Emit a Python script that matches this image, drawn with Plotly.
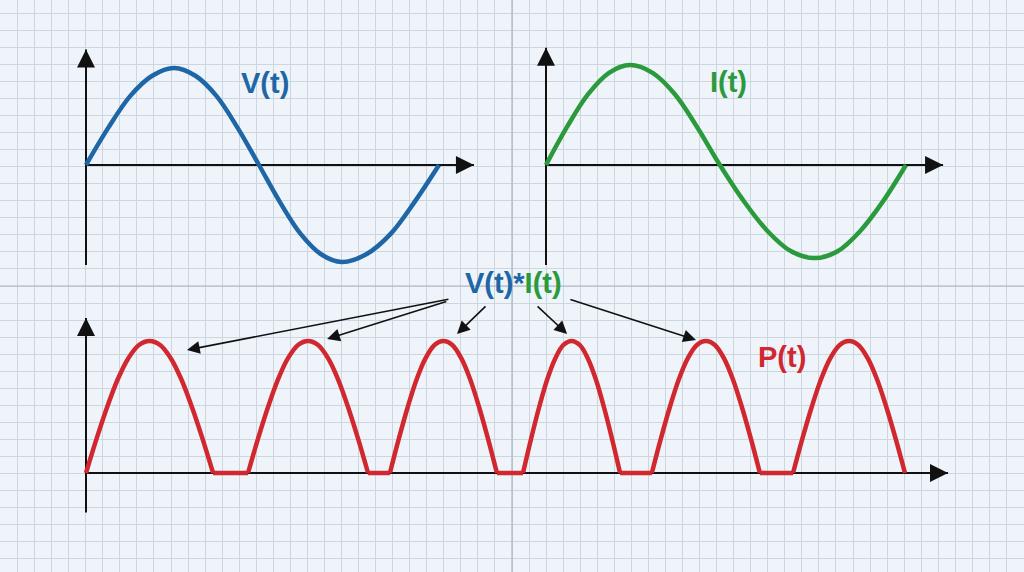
import plotly.graph_objects as go

# ---------------- data ----------------
# V(t): time in periods, value in amplitude units
V_t = [0, 0.0625, 0.125, 0.1875, 0.25, 0.31, 0.37, 0.43, 0.49, 0.549, 0.608, 0.666, 0.725, 0.794, 0.863, 0.931, 1.0]
V_val = [0, 0.38, 0.71, 0.92, 1.0, 0.92, 0.71, 0.38, 0, -0.38, -0.71, -0.92, -1.0, -0.92, -0.71, -0.38, 0]

# I(t)
I_t = [0, 0.058, 0.117, 0.175, 0.233, 0.296, 0.358, 0.42, 0.483, 0.549, 0.615, 0.681, 0.747, 0.81, 0.873, 0.937, 1.0]
I_val = [0, 0.39, 0.73, 0.95, 1.03, 0.95, 0.73, 0.39, 0, -0.37, -0.68, -0.89, -0.96, -0.89, -0.68, -0.37, 0]

# P(t): six humps separated by flat zero stretches
P_hump_start = [0.0, 0.459, 0.861, 1.238, 1.603, 2.003]
P_hump_end = [0.360, 0.799, 1.164, 1.513, 1.909, 2.320]
P_profile_frac = [0, 1/12, 2/12, 3/12, 4/12, 5/12, 6/12, 7/12, 8/12, 9/12, 10/12, 11/12, 1]
P_profile_val = [0, 0.26, 0.50, 0.71, 0.87, 0.97, 1.0, 0.97, 0.87, 0.71, 0.50, 0.26, 0]

# humps (smooth) and flat stretches (straight), gaps marked with None
P_t, P_val = [], []
for s, e in zip(P_hump_start, P_hump_end):
    for f, v in zip(P_profile_frac, P_profile_val):
        P_t.append(s + f * (e - s))
        P_val.append(v)
    P_t.append(None)
    P_val.append(None)
P_flat_t, P_flat_val = [], []
for e, s in zip(P_hump_end[:-1], P_hump_start[1:]):
    P_flat_t += [e, s, None]
    P_flat_val += [0, 0, None]

# axis extents of each panel (data units)
V_axis_x_end, V_axis_y = 1.099, (-1.03, 1.19)
I_axis_x_end, I_axis_y = 1.103, (-1.03, 1.21)
P_axis_x_end, P_axis_y = 2.442, (-0.30, 1.174)

# labels
labels = [
    ("V(t)", "x2", "y2", 0.507, 0.845, "#1f66a6"),
    ("I(t)", "x3", "y3", 0.508, 0.856, "#2b9a3c"),
    ("P(t)", "x4", "y4", 1.972, 0.879, "#d1272f"),
]
prod_label_pos = (1.212, 1.439)
# arrows from product label: (tail_t, tail_p, head_t, head_p)
prod_arrows = [
    (1.031, 1.318, 0.286, 0.932),
    (1.025, 1.303, 0.683, 1.015),
    (1.136, 1.273, 1.051, 1.053),
    (1.275, 1.273, 1.363, 1.053),
    (1.368, 1.318, 1.728, 1.008),
]

# ---------------- style ----------------
W, H = 1024, 572
BG = "#eef4fa"
GRID = "#cdd6df"
MAJOR = "#aab5c1"
BLUE = "#1f66a6"
GREEN = "#2b9a3c"
RED = "#d1272f"
AXIS = "#111111"
FONT = "Liberation Sans, Arial, sans-serif"
LW = 4.5

fig = go.Figure()

# dummy trace to keep the background grid subplot alive
fig.add_trace(go.Scatter(x=[None], y=[None], xaxis="x", yaxis="y",
                         showlegend=False, hoverinfo="skip"))

fig.add_trace(go.Scatter(x=V_t, y=V_val, xaxis="x2", yaxis="y2", mode="lines",
                         line=dict(color=BLUE, width=LW, shape="spline"),
                         showlegend=False, hoverinfo="skip"))
fig.add_trace(go.Scatter(x=I_t, y=I_val, xaxis="x3", yaxis="y3", mode="lines",
                         line=dict(color=GREEN, width=LW, shape="spline"),
                         showlegend=False, hoverinfo="skip"))
fig.add_trace(go.Scatter(x=P_flat_t, y=P_flat_val, xaxis="x4", yaxis="y4", mode="lines",
                         line=dict(color=RED, width=LW), connectgaps=False,
                         showlegend=False, hoverinfo="skip"))
fig.add_trace(go.Scatter(x=P_t, y=P_val, xaxis="x4", yaxis="y4", mode="lines",
                         line=dict(color=RED, width=LW, shape="spline"), connectgaps=False,
                         showlegend=False, hoverinfo="skip"))

hidden = dict(visible=False, showgrid=False, zeroline=False, fixedrange=True, domain=[0, 1])

fig.update_layout(
    width=W, height=H, autosize=False,
    margin=dict(l=0, r=0, t=0, b=0),
    paper_bgcolor=BG, plot_bgcolor="rgba(0,0,0,0)",
    xaxis=dict(range=[0, W], domain=[0, 1], showgrid=True, gridcolor=GRID, gridwidth=1,
               tick0=512, dtick=17.05, showticklabels=False, ticks="", zeroline=False,
               showline=False, fixedrange=True),
    yaxis=dict(range=[H, 0], domain=[0, 1], showgrid=True, gridcolor=GRID, gridwidth=1,
               tick0=286, dtick=17.05, showticklabels=False, ticks="", zeroline=False,
               showline=False, fixedrange=True),
    xaxis2=dict(range=[-86 / 353, (W - 86) / 353], anchor="y2", **hidden),
    yaxis2=dict(range=[(165 - H) / 97, 165 / 97], anchor="x2", **hidden),
    xaxis3=dict(range=[-546 / 360, (W - 546) / 360], anchor="y3", **hidden),
    yaxis3=dict(range=[(165 - H) / 97, 165 / 97], anchor="x3", **hidden),
    xaxis4=dict(range=[-86 / 353, (W - 86) / 353], anchor="y4", **hidden),
    yaxis4=dict(range=[(473 - H) / 132, 473 / 132], anchor="x4", **hidden),
    showlegend=False,
)

shapes = [
    dict(type="line", xref="x", yref="y", x0=512, x1=512, y0=0, y1=H,
         line=dict(color=MAJOR, width=1.2), layer="between"),
    dict(type="line", xref="x", yref="y", x0=0, x1=W, y0=286, y1=286,
         line=dict(color=MAJOR, width=1.2), layer="between"),
]
annotations = []
for xr, yr, xend, (yb, yt) in [("x2", "y2", V_axis_x_end, V_axis_y),
                               ("x3", "y3", I_axis_x_end, I_axis_y),
                               ("x4", "y4", P_axis_x_end, P_axis_y)]:
    shapes.append(dict(type="line", xref=xr, yref=yr, x0=0, x1=xend, y0=0, y1=0,
                       line=dict(color=AXIS, width=2), layer="below"))
    shapes.append(dict(type="line", xref=xr, yref=yr, x0=0, x1=0, y0=yb, y1=yt,
                       line=dict(color=AXIS, width=2), layer="below"))
    annotations.append(dict(x=xend, y=0, xref=xr, yref=yr, ax=-30, ay=0, text="",
                            showarrow=True, arrowhead=2, arrowsize=1.8, arrowwidth=2,
                            arrowcolor=AXIS, standoff=0))
    annotations.append(dict(x=0, y=yt, xref=xr, yref=yr, ax=0, ay=30, text="",
                            showarrow=True, arrowhead=2, arrowsize=1.8, arrowwidth=2,
                            arrowcolor=AXIS, standoff=0))

for txt, xr, yr, tx, ty, col in labels:
    annotations.append(dict(x=tx, y=ty, xref=xr, yref=yr, text="<b>%s</b>" % txt,
                            showarrow=False, xanchor="center", yanchor="middle",
                            font=dict(family=FONT, size=29, color=col)))

annotations.append(dict(x=prod_label_pos[0], y=prod_label_pos[1], xref="x4", yref="y4",
                        text="<b><span style='color:%s'>V(t)*</span><span style='color:%s'>I(t)</span></b>" % (BLUE, GREEN),
                        showarrow=False, xanchor="center", yanchor="middle",
                        font=dict(family=FONT, size=29, color=BLUE)))

for tt, tp, ht, hp in prod_arrows:
    annotations.append(dict(x=ht, y=hp, xref="x4", yref="y4", ax=tt, ay=tp,
                            axref="x4", ayref="y4", text="", showarrow=True,
                            arrowhead=2, arrowsize=1.6, arrowwidth=1.6,
                            arrowcolor=AXIS, standoff=0))

fig.update_layout(shapes=shapes, annotations=annotations)
fig.write_html("out.html", config={"displayModeBar": False},
               post_script="document.body.style.margin='0px';document.body.style.background='%s';" % BG)
